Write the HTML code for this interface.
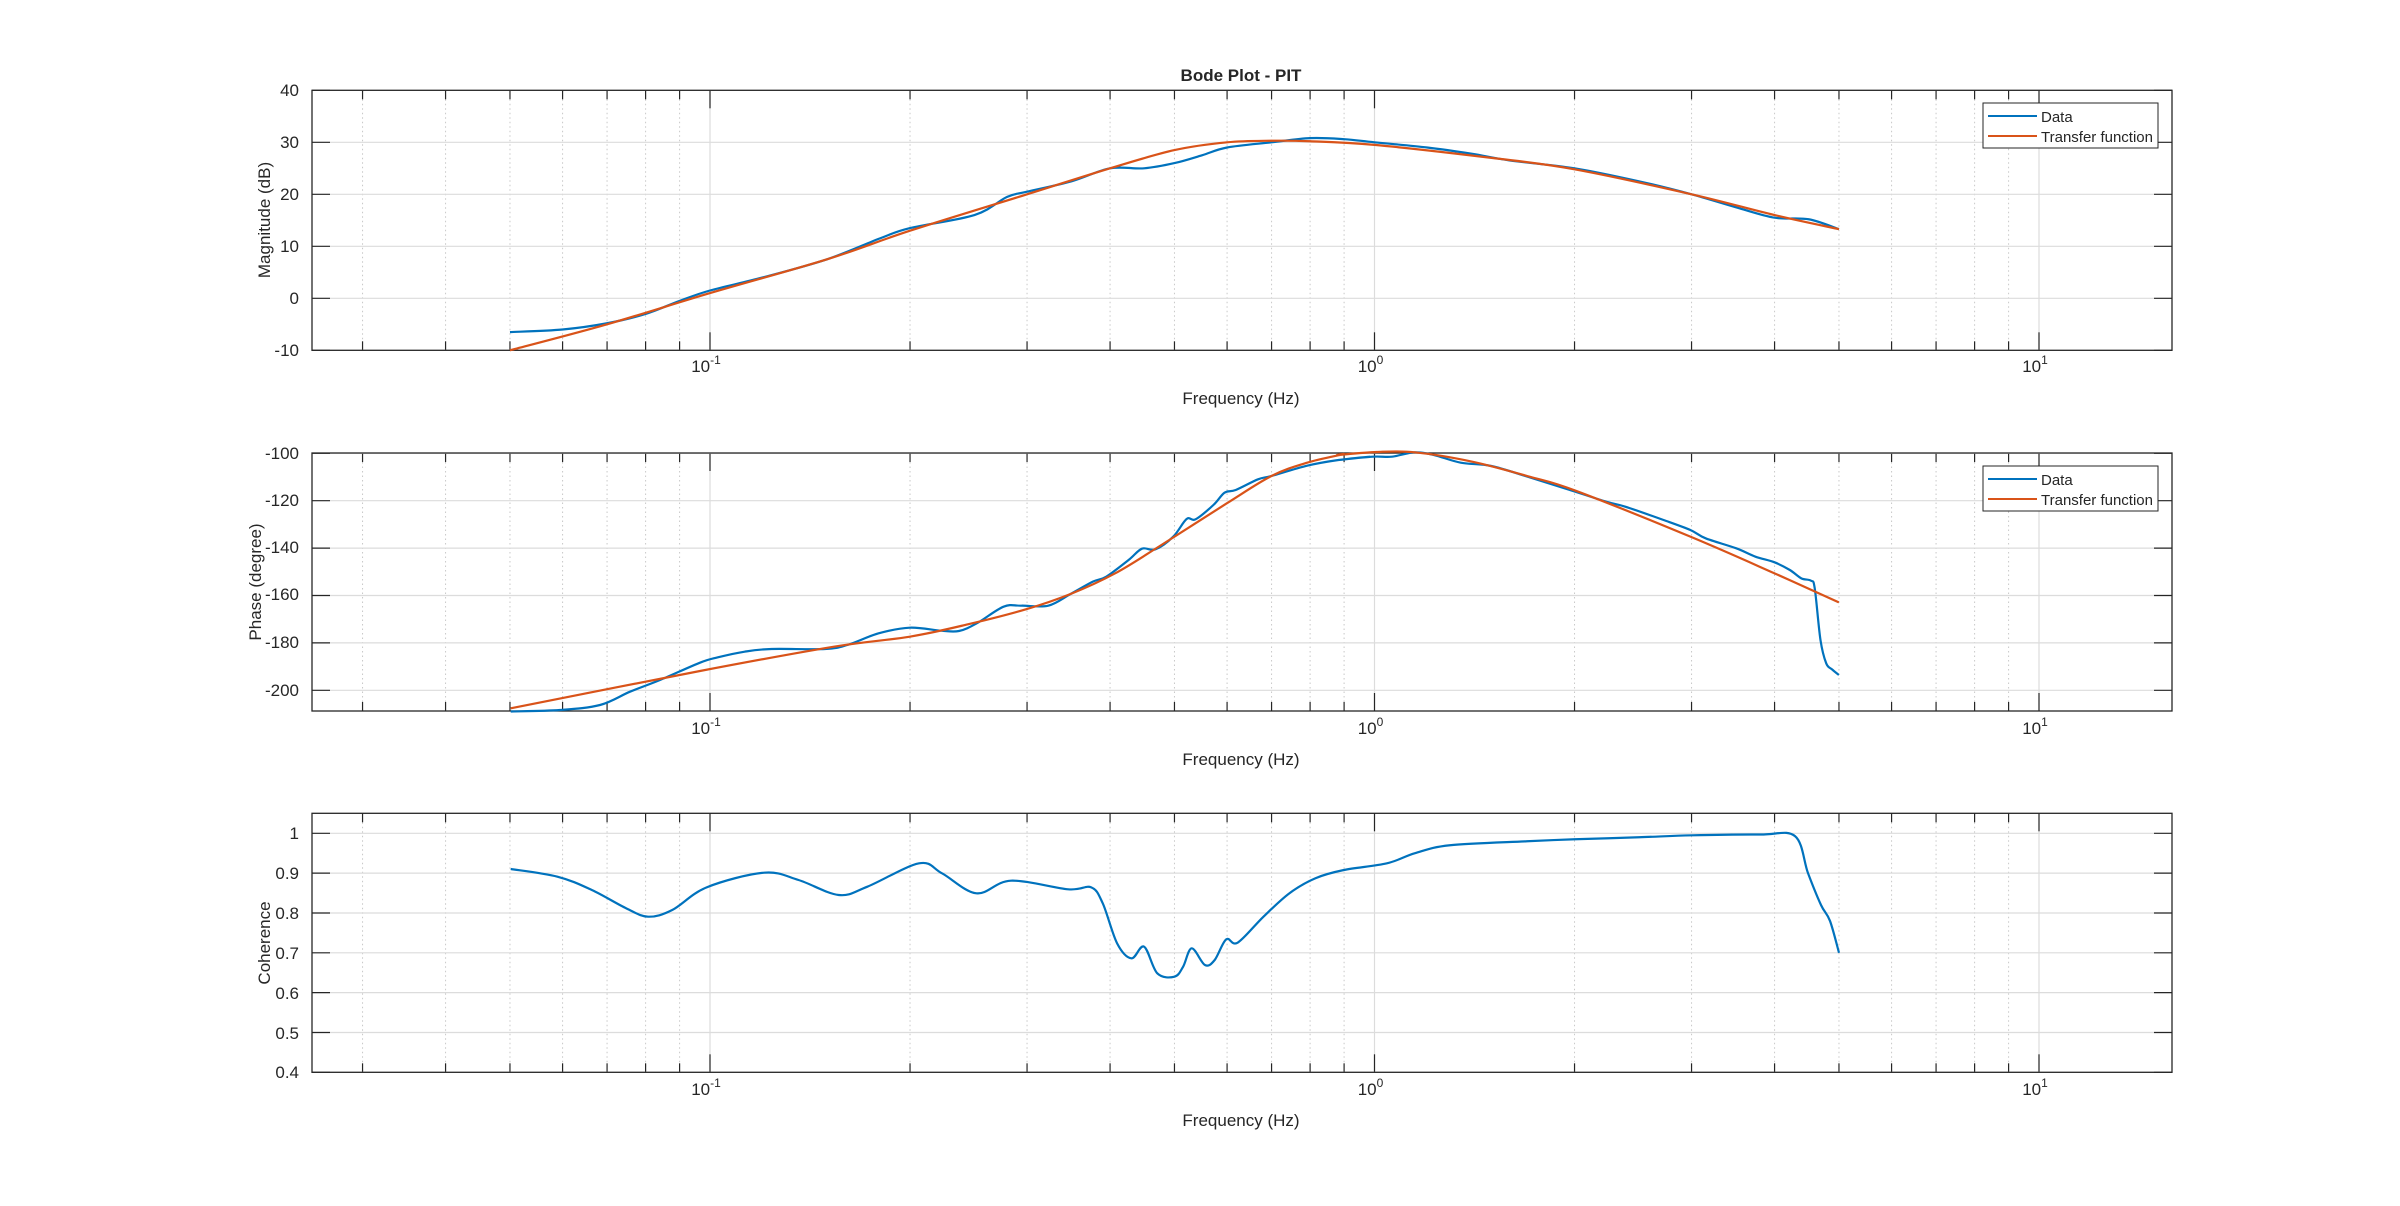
<!DOCTYPE html>
<html><head><meta charset="utf-8"><style>
body{margin:0;background:#fff}
svg{display:block}
text{font-family:"Liberation Sans",Arial,sans-serif;fill:#262626}
</style></head><body>
<svg id="s" width="2400" height="1206" viewBox="0 0 2400 1206" xmlns="http://www.w3.org/2000/svg">
<rect width="2400" height="1206" fill="#fff"/>
<g id="g"></g>
<text x="1241" y="81" font-size="17" font-weight="bold" text-anchor="middle">Bode Plot - PIT</text>
<text x="299" y="96" font-size="17" text-anchor="end">40</text>
<text x="299" y="148" font-size="17" text-anchor="end">30</text>
<text x="299" y="200" font-size="17" text-anchor="end">20</text>
<text x="299" y="252" font-size="17" text-anchor="end">10</text>
<text x="299" y="304" font-size="17" text-anchor="end">0</text>
<text x="299" y="356" font-size="17" text-anchor="end">-10</text>
<text transform="translate(270,220) rotate(-90)" font-size="17" text-anchor="middle">Magnitude (dB)</text>
<text x="1241" y="404" font-size="17" text-anchor="middle">Frequency (Hz)</text>
<text x="299" y="459" font-size="17" text-anchor="end">-100</text>
<text x="299" y="506" font-size="17" text-anchor="end">-120</text>
<text x="299" y="553" font-size="17" text-anchor="end">-140</text>
<text x="299" y="600" font-size="17" text-anchor="end">-160</text>
<text x="299" y="648" font-size="17" text-anchor="end">-180</text>
<text x="299" y="696" font-size="17" text-anchor="end">-200</text>
<text transform="translate(261,582) rotate(-90)" font-size="17" text-anchor="middle">Phase (degree)</text>
<text x="1241" y="765" font-size="17" text-anchor="middle">Frequency (Hz)</text>
<text x="299" y="839" font-size="17" text-anchor="end">1</text>
<text x="299" y="879" font-size="17" text-anchor="end">0.9</text>
<text x="299" y="919" font-size="17" text-anchor="end">0.8</text>
<text x="299" y="959" font-size="17" text-anchor="end">0.7</text>
<text x="299" y="999" font-size="17" text-anchor="end">0.6</text>
<text x="299" y="1039" font-size="17" text-anchor="end">0.5</text>
<text x="299" y="1078" font-size="17" text-anchor="end">0.4</text>
<text transform="translate(270,943) rotate(-90)" font-size="17" text-anchor="middle">Coherence</text>
<text x="1241" y="1126" font-size="17" text-anchor="middle">Frequency (Hz)</text>
<g id="xl"></g>
<rect x="1983" y="103" width="175" height="45" fill="#fff" stroke="#262626" stroke-width="1"/>
<line x1="1988" y1="116" x2="2037" y2="116" stroke="#0072BD" stroke-width="2"/>
<line x1="1988" y1="136" x2="2037" y2="136" stroke="#D95319" stroke-width="2"/>
<text x="2041" y="122" font-size="15">Data</text>
<text x="2041" y="142" font-size="15">Transfer function</text>
<rect x="1983" y="466" width="175" height="45" fill="#fff" stroke="#262626" stroke-width="1"/>
<line x1="1988" y1="479" x2="2037" y2="479" stroke="#0072BD" stroke-width="2"/>
<line x1="1988" y1="499" x2="2037" y2="499" stroke="#D95319" stroke-width="2"/>
<text x="2041" y="485" font-size="15">Data</text>
<text x="2041" y="505" font-size="15">Transfer function</text>
</svg>
<script>
var L=312,R=2172;
function fx(f){return 1374.5+664.5*Math.log10(f);}
var axes=[{t:90.3,b:350.3,ys:[90.3,142.3,194.3,246.3,298.3,350.3]},
{t:453,b:711,ys:[453.3,500.7,548.1,595.5,642.9,690.3]},
{t:813.3,b:1072.3,ys:[833.3,873.1,913,952.8,992.6,1032.5,1072.3]}];
var h='';
axes.forEach(function(a){
 for(var k=-2;k<=1;k++)for(var m=1;m<=9;m++){var f=m*Math.pow(10,k);var x=fx(f);if(x<=L+1||x>=R-1)continue;
  if(m==1)h+='<line x1="'+x+'" y1="'+a.t+'" x2="'+x+'" y2="'+a.b+'" stroke="#dcdcdc" stroke-width="1.2"/>';
  else h+='<line x1="'+x+'" y1="'+a.t+'" x2="'+x+'" y2="'+a.b+'" stroke="#c8c8c8" stroke-width="1" stroke-dasharray="1.5,3"/>';
  var tl=m==1?18:9;
  h+='<line x1="'+x+'" y1="'+a.b+'" x2="'+x+'" y2="'+(a.b-tl)+'" stroke="#262626" stroke-width="1.2"/>';
  h+='<line x1="'+x+'" y1="'+a.t+'" x2="'+x+'" y2="'+(a.t+tl)+'" stroke="#262626" stroke-width="1.2"/>';}
 a.ys.forEach(function(y){
  h+='<line x1="'+L+'" y1="'+y+'" x2="'+R+'" y2="'+y+'" stroke="#dcdcdc" stroke-width="1.2"/>';
  h+='<line x1="'+L+'" y1="'+y+'" x2="'+(L+18)+'" y2="'+y+'" stroke="#262626" stroke-width="1.2"/>';
  h+='<line x1="'+(R-18)+'" y1="'+y+'" x2="'+R+'" y2="'+y+'" stroke="#262626" stroke-width="1.2"/>';});
 h+='<rect x="'+L+'" y="'+a.t+'" width="'+(R-L)+'" height="'+(a.b-a.t)+'" fill="none" stroke="#262626" stroke-width="1.3"/>';
});
function cr(p){var d='M'+p[0][0]+','+p[0][1];for(var i=0;i<p.length-1;i++){var p0=p[i-1]||p[i],p1=p[i],p2=p[i+1],p3=p[i+2]||p2;
 d+=' C'+(p1[0]+(p2[0]-p0[0])/6)+','+(p1[1]+(p2[1]-p0[1])/6)+' '+(p2[0]-(p3[0]-p1[0])/6)+','+(p2[1]-(p3[1]-p1[1])/6)+' '+p2[0]+','+p2[1];}return d;}
function path(p,c){h+='<path d="'+cr(p)+'" fill="none" stroke="'+c+'" stroke-width="2.2" stroke-linejoin="round"/>';}
function mag(arr){return arr.map(function(q){return [fx(q[0]),90.3+(40-q[1])*5.2];});}
var BLUE='#0072BD',RED='#D95319';
path(mag([[0.05,-6.5],[0.06,-6],[0.07,-4.8],[0.08,-3],[0.09,-0.5],[0.1,1.5],[0.12,4],[0.15,7.5],[0.18,11.5],[0.2,13.5],[0.25,16],[0.28,19.5],[0.3,20.5],[0.35,22.5],[0.4,25],[0.45,25],[0.5,26],[0.55,27.5],[0.6,29],[0.7,30],[0.8,30.8],[0.9,30.6],[1.0,30],[1.2,29],[1.4,27.8],[1.6,26.5],[2,25],[2.5,22.5],[3,20],[3.5,17.5],[4,15.5],[4.5,15.2],[5,13.3]]),BLUE);
path(mag([[0.05,-10],[0.07,-5],[0.1,1],[0.15,7.5],[0.2,13],[0.3,20],[0.4,25],[0.5,28.5],[0.6,30],[0.7,30.3],[0.8,30.2],[1,29.5],[1.5,27],[2,24.8],[3,20],[4,16],[5,13.3]]),RED);
function z(o,sx,arr){return arr.map(function(q){return [o[0]+q[0]/sx,o[1]+q[1]/3];});}
var pb=[[510.7,711.5],[560,710],[600,705],[630,691.7],[660,680]].concat(
z([700,440],2.24,[[0,668],[40,652],[100,635],[160,627],[280,627],[330,615],[400,580],[470,563],[540,572],[580,573],[620,550],[680,500],[720,497],[780,497],[830,462],[880,425],[910,410],[960,360],[990,326],[1020,328],[1060,290],[1090,237],[1110,238],[1150,195],[1175,158],[1200,150],[1250,118],[1280,108],[1360,77],[1430,60],[1500,50]]),
z([1300,440],2.613,[[100,60],[190,50],[240,50],[300,37],[350,45],[420,68],[500,78],[600,112],[700,148],[800,185],[850,200],[950,240],[1020,270],[1060,295],[1140,325],[1190,350],[1240,367],[1280,390],[1310,415],[1335,422],[1345,445],[1360,600],[1375,670],[1390,688],[1408,705]]));
path(pb,BLUE);
var pr=[[510.7,708.3]].concat(z([700,440],2.24,[[0,693],[300,620],[470,590],[600,553],[730,508],[830,462],[930,400],[1030,318],[1180,190],[1280,108],[1360,68],[1440,43]]),
z([1300,440],2.613,[[100,45],[200,36],[300,37],[450,65],[600,110],[720,152],[1020,290],[1240,400],[1408,487]]));
path(pr,RED);
function cy(v){return 833.3+(1-v)*398.3;}
var pc=[[510.7,869]].concat(z([500,810],1.742,[[100,200],[160,240],[220,295],[258,320],[300,300],[360,232],[460,188],[520,210],[590,255],[640,230],[730,160],[770,190],[830,250],[890,212],[990,238],[1030,232],[1050,280],[1075,400],[1100,445],[1122,410],[1145,490],[1175,500],[1190,470],[1205,415],[1228,465],[1245,450],[1265,388],[1285,398],[1330,320],[1375,250],[1420,205],[1470,180],[1545,160]]),
[[1415,cy(0.95)],[1450,cy(0.97)],[1527,cy(0.98)],[1575,cy(0.985)],[1639,cy(0.99)],[1692,cy(0.995)],[1760,cy(0.997)],[1795,cy(0.993)],[1808,cy(0.9)],[1821,cy(0.82)],[1830,cy(0.78)],[1839,cy(0.7)]]);
path(pc,BLUE);
document.getElementById('g').innerHTML=h;
var xl='';
[[0.1,'-1'],[1,'0'],[10,'1']].forEach(function(q){
 var x=fx(q[0]);[372,734,1095].forEach(function(y){
 xl+='<text x="'+(x-4)+'" y="'+y+'" font-size="17" text-anchor="middle">10<tspan font-size="12" dy="-8">'+q[1]+'</tspan></text>';});});
document.getElementById('xl').innerHTML=xl;
</script>
</body></html>
